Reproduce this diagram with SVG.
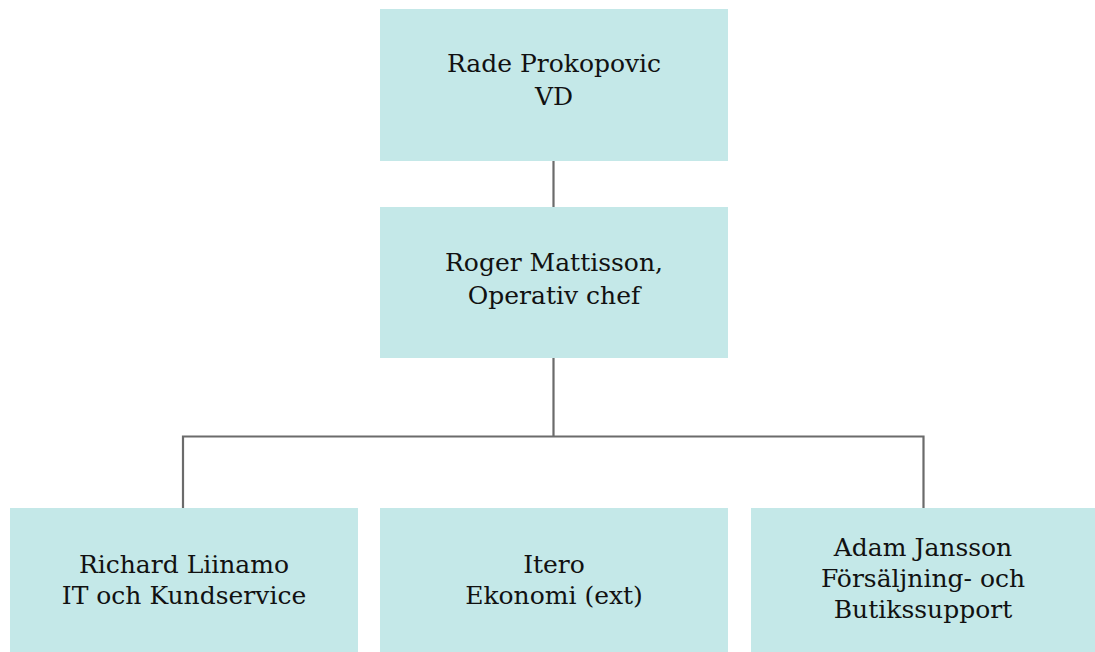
<svg xmlns="http://www.w3.org/2000/svg" width="1095" height="652" viewBox="0 0 1095 652">
<style>
.box{fill:#c4e8e8}
.t{font-family:"DejaVu Serif",serif;font-size:25px;fill:#111;text-anchor:middle}
.c{fill:none;stroke:#6b6b6b;stroke-width:2.2}
</style>
<rect width="1095" height="652" fill="#ffffff"/>
<g id="connectors">
<path class="c" d="M553.5 161V207"/>
<path class="c" d="M553.5 358V436.5M183 508V436.5H923.5V508"/>
</g>
<g id="n1"><rect class="box" x="380" y="9" width="348" height="152"/><text class="t" x="554" y="72">Rade Prokopovic</text><text class="t" x="554" y="105">VD</text></g>
<g id="n2"><rect class="box" x="380" y="207" width="348" height="151"/><text class="t" x="554" y="271">Roger Mattisson,</text><text class="t" x="554" y="304">Operativ chef</text></g>
<g id="n3"><rect class="box" x="10" y="508" width="348" height="144"/><text class="t" x="184" y="573">Richard Liinamo</text><text class="t" x="184" y="604">IT och Kundservice</text></g>
<g id="n4"><rect class="box" x="380" y="508" width="348" height="144"/><text class="t" x="554" y="573">Itero</text><text class="t" x="554" y="604">Ekonomi (ext)</text></g>
<g id="n5"><rect class="box" x="751" y="508" width="344" height="144"/><text class="t" x="923" y="556">Adam Jansson</text><text class="t" x="923" y="587">Försäljning- och</text><text class="t" x="923" y="618">Butikssupport</text></g>
</svg>
